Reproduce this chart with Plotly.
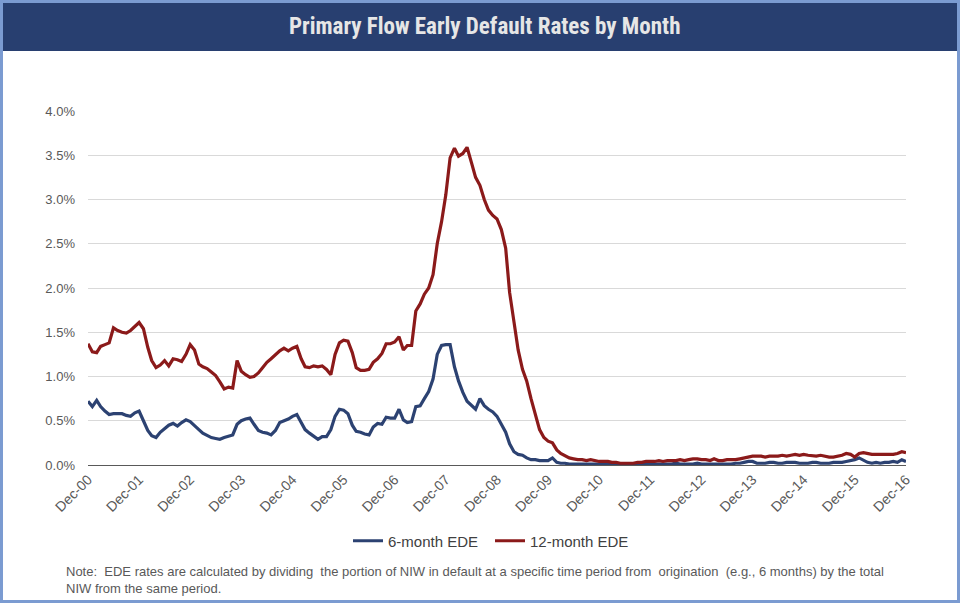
import plotly.graph_objects as go
import pandas as pd

# monthly observations, Dec-00 .. Dec-16
months = pd.date_range('2000-12-01', '2016-12-01', freq='MS')

ede_12m = [
    1.37, 1.28, 1.27, 1.34, 1.36, 1.38, 1.55, 1.52, 1.50, 1.49, 1.52, 1.56,
    1.61, 1.54, 1.33, 1.18, 1.10, 1.13, 1.18, 1.12, 1.20, 1.19, 1.17, 1.25,
    1.36, 1.30, 1.14, 1.11, 1.09, 1.05, 1.01, 0.94, 0.86, 0.88, 0.87, 1.18,
    1.06, 1.02, 0.99, 1.00, 1.04, 1.10, 1.16, 1.20, 1.25, 1.29, 1.32, 1.29,
    1.32, 1.34, 1.20, 1.11, 1.10, 1.12, 1.11, 1.12, 1.08, 1.02, 1.25, 1.38,
    1.41, 1.40, 1.27, 1.10, 1.07, 1.07, 1.08, 1.16, 1.20, 1.26, 1.37, 1.37,
    1.39, 1.45, 1.30, 1.35, 1.35, 1.74, 1.82, 1.93, 2.00, 2.15, 2.50, 2.75,
    3.05, 3.47, 3.58, 3.49, 3.52, 3.59, 3.42, 3.25, 3.16, 3.00, 2.88, 2.82,
    2.78, 2.66, 2.45, 1.95, 1.62, 1.30, 1.08, 0.95, 0.75, 0.56, 0.40, 0.31,
    0.27, 0.25, 0.17, 0.13, 0.10, 0.08, 0.07, 0.06, 0.06, 0.05, 0.06, 0.05,
    0.04, 0.04, 0.04, 0.03, 0.03, 0.02, 0.02, 0.02, 0.02, 0.03, 0.03, 0.04,
    0.04, 0.04, 0.05, 0.04, 0.05, 0.05, 0.05, 0.06, 0.05, 0.06, 0.07, 0.07,
    0.06, 0.06, 0.05, 0.07, 0.05, 0.05, 0.06, 0.06, 0.06, 0.07, 0.08, 0.09,
    0.10, 0.10, 0.10, 0.09, 0.10, 0.10, 0.10, 0.11, 0.10, 0.11, 0.12, 0.11,
    0.12, 0.11, 0.10, 0.10, 0.11, 0.10, 0.09, 0.09, 0.10, 0.11, 0.13, 0.12,
    0.09, 0.13, 0.14, 0.13, 0.12, 0.12, 0.12, 0.12, 0.12, 0.12, 0.13, 0.15,
    0.14,
]

ede_6m = [
    0.72, 0.66, 0.73, 0.66, 0.61, 0.57, 0.58, 0.58, 0.58, 0.56, 0.55, 0.59,
    0.61, 0.50, 0.39, 0.33, 0.31, 0.37, 0.41, 0.45, 0.47, 0.44, 0.48, 0.51,
    0.49, 0.45, 0.40, 0.36, 0.33, 0.31, 0.30, 0.29, 0.31, 0.33, 0.34, 0.46,
    0.50, 0.52, 0.53, 0.46, 0.39, 0.37, 0.36, 0.34, 0.39, 0.48, 0.50, 0.52,
    0.55, 0.57, 0.48, 0.40, 0.36, 0.33, 0.29, 0.32, 0.32, 0.40, 0.55, 0.63,
    0.62, 0.58, 0.45, 0.38, 0.37, 0.35, 0.34, 0.43, 0.47, 0.46, 0.54, 0.53,
    0.53, 0.63, 0.51, 0.48, 0.49, 0.66, 0.67, 0.75, 0.83, 0.97, 1.25, 1.35,
    1.36, 1.36, 1.11, 0.95, 0.82, 0.72, 0.68, 0.63, 0.75, 0.67, 0.63, 0.60,
    0.55, 0.46, 0.37, 0.24, 0.15, 0.12, 0.11, 0.08, 0.06, 0.06, 0.05, 0.05,
    0.05, 0.08, 0.03, 0.02, 0.02, 0.01, 0.01, 0.01, 0.01, 0.01, 0.01, 0.01,
    0.01, 0.01, 0.01, 0.01, 0.01, 0.01, 0.01, 0.01, 0.01, 0.01, 0.01, 0.01,
    0.01, 0.01, 0.01, 0.01, 0.01, 0.01, 0.02, 0.01, 0.01, 0.01, 0.01, 0.02,
    0.01, 0.01, 0.01, 0.01, 0.01, 0.01, 0.01, 0.01, 0.02, 0.02, 0.03, 0.04,
    0.04, 0.02, 0.02, 0.02, 0.03, 0.03, 0.02, 0.02, 0.03, 0.03, 0.03, 0.02,
    0.02, 0.02, 0.03, 0.03, 0.02, 0.02, 0.02, 0.03, 0.03, 0.03, 0.04, 0.05,
    0.06, 0.08, 0.05, 0.03, 0.02, 0.03, 0.02, 0.03, 0.03, 0.04, 0.03, 0.06,
    0.04,
]

title_text = 'Primary Flow Early Default Rates by Month'
note_text = ('Note:  EDE rates are calculated by dividing  the portion of NIW in default at a specific time period '
             'from  origination  (e.g., 6 months) by the total<br>NIW from the same period.')

NAVY = '#283f70'
RED = '#8b1a1a'
BLUE = '#2c4272'

# plot area in pixels: left 88, right 906, top 111, bottom 465
PW, PH = 818, 354

fig = go.Figure()
fig.add_trace(go.Scatter(x=months, y=[v / 100 for v in ede_6m], mode='lines',
                         name='6-month EDE', line=dict(color=BLUE, width=3.2)))
fig.add_trace(go.Scatter(x=months, y=[v / 100 for v in ede_12m], mode='lines',
                         name='12-month EDE', line=dict(color=RED, width=3.2)))

fig.update_layout(
    width=960, height=603,
    margin=dict(l=88, r=54, t=111, b=138),
    paper_bgcolor='white', plot_bgcolor='white',
    font=dict(family='Liberation Sans, Arial, sans-serif', size=12, color='#595959'),
    showlegend=True,
    legend=dict(orientation='h', x=(490 - 88) / PW, xanchor='center', y=-76 / PH, yanchor='middle',
                font=dict(size=15, color='#404040'), itemwidth=30, tracegroupgap=0,
                entrywidth=97, entrywidthmode='pixels'),
)

fig.update_xaxes(range=[months[0], months[-1]], dtick='M12', tick0=months[0],
                 tickformat='%b-%y', tickangle=-45, showgrid=False,
                 showline=True, linecolor='#595959', linewidth=1.2,
                 ticks='', tickfont=dict(size=14, color='#595959'))
fig.update_yaxes(range=[0, 0.04], dtick=0.005, tickformat='.1%',
                 showgrid=True, gridcolor='#d9d9d9', gridwidth=1,
                 zeroline=False, ticks='', ticklabelstandoff=12,
                 tickfont=dict(size=13, color='#595959'))

# title bar and outer frame
fig.add_shape(type='rect', xref='paper', yref='paper',
              x0=-88 / PW, x1=1 + 54 / PW, y0=1 + 60 / PH, y1=1 + 111 / PH,
              fillcolor=NAVY, line=dict(width=0), layer='below')
fig.add_shape(type='rect', xref='paper', yref='paper',
              x0=-86.5 / PW, x1=1 + 52.5 / PW, y0=-136.5 / PH, y1=1 + 109.5 / PH,
              fillcolor='rgba(0,0,0,0)', line=dict(color='#7b9bd1', width=3))

fig.add_annotation(text='<b>' + title_text + '</b>', xref='paper', yref='paper',
                   x=(484 - 88) / PW, y=1 + 85 / PH, xanchor='center', yanchor='middle',
                   showarrow=False,
                   font=dict(family='Liberation Sans Narrow, Roboto Condensed, Arial Narrow, sans-serif',
                             size=23, color='#e6e6e6'))
fig.add_annotation(text=note_text, xref='paper', yref='paper',
                   x=(64 - 88) / PW, y=-(562 - 465) / PH, xanchor='left', yanchor='top',
                   align='left', showarrow=False,
                   font=dict(size=13, color='#595959'))

fig.write_html('out.html', config={'displayModeBar': False},
               post_script="document.body.style.margin='0';")
